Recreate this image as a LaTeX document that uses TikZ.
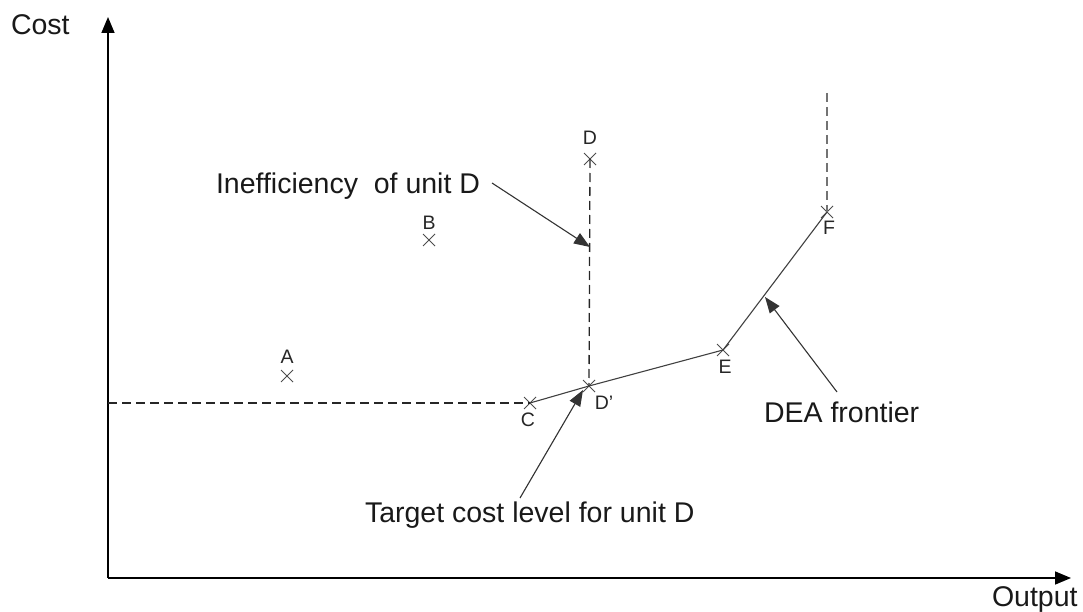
\documentclass[tikz,border=0pt]{standalone}
\usepackage{fontspec}
\setmainfont{Liberation Sans}
\usetikzlibrary{arrows.meta,shapes.misc}
\begin{document}
\begin{tikzpicture}[x=1pt,y=-1pt,
  every node/.style={inner sep=0pt, outer sep=0pt},
  axis/.style={line width=1.6pt, -{Triangle[length=16pt,width=13pt]}},
  guide/.style={line width=1.3pt, dash pattern=on 9pt off 5pt, black!85},
  upper/.style={line width=1.3pt, dash pattern=on 9pt off 5pt, black!55},
  frontier/.style={line width=1.1pt, black!75},
  unit/.style={draw=black!70, line width=0.9pt, shape=cross out, minimum size=12pt},
  unitlabel/.style={font=\fontsize{19.5}{22}\selectfont, text=black!85},
  callout/.style={font=\fontsize{28.5}{34}\selectfont, anchor=base west, text=black!90},
  pointer/.style={line width=1.1pt, black!80, -{Triangle[length=16pt,width=12pt]}},
]
\useasboundingbox (0,0) rectangle (1083,612);

% axes
\coordinate (O) at (108,578);
\coordinate (ytip) at (108,17);
\coordinate (xtip) at (1071,578);
\draw[axis] (O) -- (ytip);
\draw[axis] (O) -- (xtip);
\node[callout] (costlbl) at (11,35) {Cost};
\node[callout] (outlbl) at (992,606) {Output};

% units
\node[unit] (A) at (287,376) {};
\node[unit] (B) at (429,240) {};
\node[unit] (D) at (590,159) {};
\node[unit] (C) at (530,403) {};
\node[unit] (Dp) at (589,386) {};
\node[unit] (E) at (723,350) {};
\node[unit] (F) at (827,212) {};

% dashed guides
\coordinate (yC) at (108,403);
\coordinate (Ftop) at (827,93);
\draw[guide] (yC) -- (C.center);
\draw[guide] (D.center) -- (Dp.center);
\draw[upper] (Ftop) -- (F.center);

% frontier
\draw[frontier] (C.center) -- (Dp.center) -- (E.center) -- (F.center);

% unit labels
\node[unitlabel] (lA) at (287,357) {A};
\node[unitlabel] (lB) at (429,223) {B};
\node[unitlabel] (lD) at (590,138) {D};
\node[unitlabel] (lC) at (528,420) {C};
\node[unitlabel] (lDp) at (604,403) {D’};
\node[unitlabel] (lE) at (725,367) {E};
\node[unitlabel] (lF) at (829,228) {F};

% callouts
\node[callout] (ineff) at (216,194) {Inefficiency~ of unit D};
\node[callout] (target) at (365,522) {Target cost level for unit D};
\node[callout] (dea) at (764,422) {DEA frontier};

\coordinate (ineffTail) at (492,183);
\coordinate (ineffTip) at (590,247);
\coordinate (targetTail) at (520,498);
\coordinate (targetTip) at (583,390);
\coordinate (deaTail) at (837,392);
\coordinate (deaTip) at (765,297);
\draw[pointer] (ineffTail) -- (ineffTip);
\draw[pointer] (targetTail) -- (targetTip);
\draw[pointer] (deaTail) -- (deaTip);
\end{tikzpicture}
\end{document}
